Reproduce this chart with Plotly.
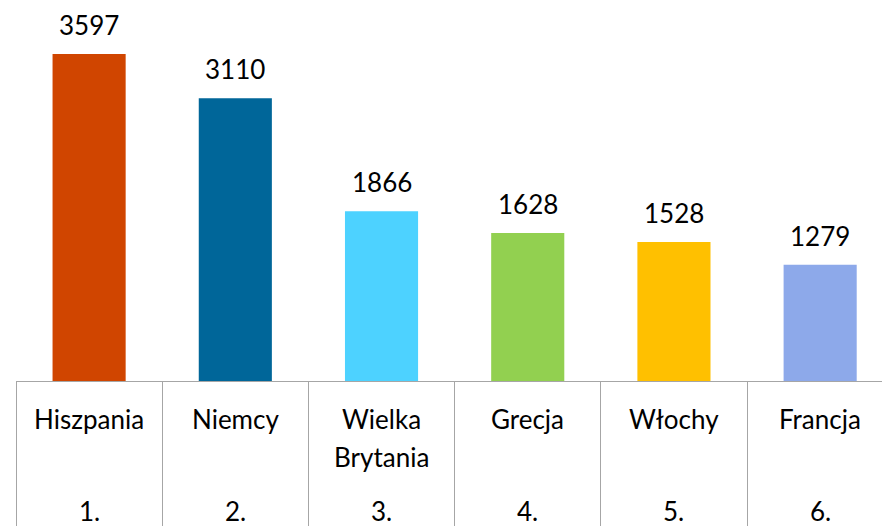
import plotly.graph_objects as go

# Data
countries = ["Hiszpania", "Niemcy", "Wielka\nBrytania", "Grecja", "Włochy", "Francja"]
ranks = ["1.", "2.", "3.", "4.", "5.", "6."]
values = [3597, 3110, 1866, 1628, 1528, 1279]
colors = ["#D04500", "#006699", "#4DD2FF", "#92D050", "#FFC000", "#8DA9EA"]

FONT = "Lato"
x = list(range(len(values)))

fig = go.Figure()

fig.add_trace(go.Bar(
    x=x,
    y=values,
    width=0.5,
    marker=dict(color=colors, line=dict(width=0)),
    hoverinfo="skip",
))

annotations = []
# value labels above bars
for i, v in zip(x, values):
    annotations.append(dict(
        x=i, y=v, xref="x", yref="y",
        text=str(v), showarrow=False,
        yanchor="middle", yshift=29,
        font=dict(family=FONT, size=26, color="#000000"),
    ))

# category names and ranks below the axis
for i, (name, rank) in enumerate(zip(countries, ranks)):
    for k, line in enumerate(name.split("\n")):
        annotations.append(dict(
            x=i, y=0, xref="x", yref="paper",
            text=line, showarrow=False,
            yanchor="middle", yshift=-38 - 38 * k,
            font=dict(family=FONT, size=26, color="#000000"),
        ))
    annotations.append(dict(
        x=i, y=0, xref="x", yref="paper",
        text=rank, showarrow=False,
        yanchor="middle", yshift=-130,
        font=dict(family=FONT, size=26, color="#000000"),
    ))

fig.update_layout(
    width=882,
    height=526,
    margin=dict(l=16, r=0, t=0, b=145),
    plot_bgcolor="white",
    paper_bgcolor="white",
    showlegend=False,
    annotations=annotations,
    xaxis=dict(
        type="linear",
        range=[-0.5, 5.423],
        showgrid=False,
        zeroline=False,
        showline=True,
        linecolor="#A6A6A6",
        linewidth=1,
        ticks="outside",
        tickvals=[i - 0.5 for i in range(len(values) + 1)],
        ticklen=145,
        tickcolor="#A6A6A6",
        tickwidth=1,
        showticklabels=False,
    ),
    yaxis=dict(
        range=[0, 4190],
        showgrid=False,
        zeroline=False,
        showline=False,
        showticklabels=False,
        ticks="",
    ),
)

# drop the default page margin so the figure sits at the window's corner
fig.write_html(
    "out.html",
    config={"displayModeBar": False},
    post_script="document.body.style.margin='0px';",
)
